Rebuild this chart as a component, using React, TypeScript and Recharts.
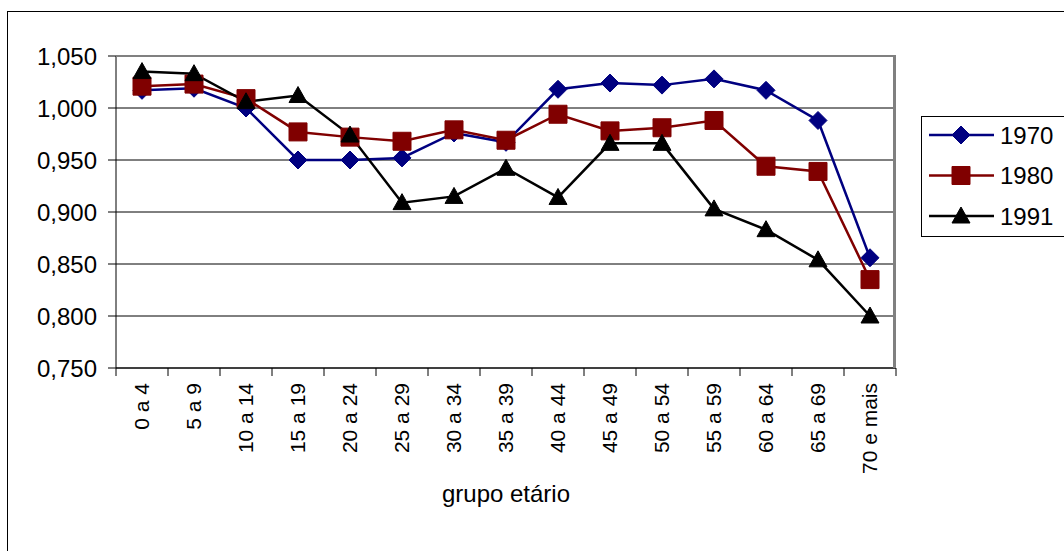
import React from "react";
import { LineChart, Line, XAxis, YAxis, CartesianGrid } from "recharts";

const FONT = '"Liberation Sans", Arial, sans-serif';

const groups = [
  "0 a 4",
  "5 a 9",
  "10 a 14",
  "15 a 19",
  "20 a 24",
  "25 a 29",
  "30 a 34",
  "35 a 39",
  "40 a 44",
  "45 a 49",
  "50 a 54",
  "55 a 59",
  "60 a 64",
  "65 a 69",
  "70 e mais",
];

const v1970 = [1.017, 1.019, 1.0, 0.95, 0.95, 0.952, 0.976, 0.967, 1.018, 1.024, 1.022, 1.028, 1.017, 0.988, 0.856];
const v1980 = [1.021, 1.023, 1.009, 0.977, 0.972, 0.968, 0.979, 0.969, 0.994, 0.978, 0.981, 0.988, 0.944, 0.939, 0.835];
const v1991 = [1.035, 1.033, 1.006, 1.012, 0.974, 0.909, 0.915, 0.942, 0.914, 0.966, 0.966, 0.903, 0.883, 0.854, 0.8];

const yTicks = [0.75, 0.8, 0.85, 0.9, 0.95, 1.0, 1.05];

const series = [
  { key: "y1970", label: "1970", color: "#000080", shape: "diamond" },
  { key: "y1980", label: "1980", color: "#800000", shape: "square" },
  { key: "y1991", label: "1991", color: "#000000", shape: "triangle" },
];

const data = groups.map((g, i) => ({
  grupo: g,
  y1970: v1970[i],
  y1980: v1980[i],
  y1991: v1991[i],
}));

// layout
const W = 1064;
const H = 551;
const MARGIN = { top: 56, right: 168, bottom: 43, left: 8 };
const Y_W = 108;
const X_H = 140;
const PLOT_L = MARGIN.left + Y_W;
const PLOT_R = W - MARGIN.right;
const PLOT_T = MARGIN.top;
const PLOT_B = H - MARGIN.bottom - X_H;
const BAND = (PLOT_R - PLOT_L) / groups.length;

function markerPath(shape: string, cx: number, cy: number) {
  if (shape === "diamond") {
    return `M${cx},${cy - 9}L${cx + 9},${cy}L${cx},${cy + 9}L${cx - 9},${cy}Z`;
  }
  if (shape === "square") {
    return `M${cx - 9},${cy - 9}H${cx + 9}V${cy + 9}H${cx - 9}Z`;
  }
  return `M${cx},${cy - 9}L${cx + 9},${cy + 7}L${cx - 9},${cy + 7}Z`;
}

const makeDot = (shape: string, color: string) => (props: any) => {
  const { cx, cy, index } = props;
  if (cx == null || cy == null) return <g key={index} />;
  return <path key={index} d={markerPath(shape, cx, cy)} fill={color} stroke={color} strokeWidth={1} />;
};

const XTick = (props: any) => {
  const { x, y, payload, index } = props;
  const last = index === groups.length - 1;
  return (
    <g>
      <line x1={x - BAND / 2} x2={x - BAND / 2} y1={PLOT_B} y2={PLOT_B + 8} stroke="#000" />
      {last && <line x1={x + BAND / 2} x2={x + BAND / 2} y1={PLOT_B} y2={PLOT_B + 8} stroke="#000" />}
      <text
        x={x}
        y={y}
        transform={`rotate(-90 ${x} ${y})`}
        textAnchor="end"
        dy="0.35em"
        fontSize={21}
        fontFamily={FONT}
        fill="#000"
      >
        {payload.value}
      </text>
    </g>
  );
};

const fmt = (v: number) => v.toFixed(3).replace(".", ",");

function LegendBox() {
  return (
    <svg
      width={150}
      height={121}
      style={{ position: "absolute", left: 921, top: 116, overflow: "visible" }}
    >
      <rect x={0.5} y={0.5} width={160} height={120} fill="#fff" stroke="#000" />
      {series.map((s, i) => {
        const cy = 19 + i * 40.5;
        return (
          <g key={s.key}>
            <line x1={8} x2={73} y1={cy} y2={cy} stroke={s.color} strokeWidth={2.5} />
            <path d={markerPath(s.shape, 40, cy)} fill={s.color} stroke={s.color} />
            <text x={79} y={cy} dy="0.36em" fontSize={24} fontFamily={FONT} fill="#000">
              {s.label}
            </text>
          </g>
        );
      })}
    </svg>
  );
}

export default function App() {
  return (
    <div
      style={{
        position: "absolute",
        left: 0,
        top: 0,
        width: W,
        height: H,
        overflow: "hidden",
        background: "#fff",
        fontFamily: FONT,
      }}
    >
      <div
        style={{
          position: "absolute",
          left: 7,
          top: 11,
          width: 1100,
          height: 600,
          border: "1px solid #000",
        }}
      />
      <LineChart width={W} height={H} data={data} margin={MARGIN} style={{ position: "absolute", left: 0, top: 0 }}>
        <CartesianGrid horizontal vertical={false} stroke="#000" strokeWidth={1} />
        <XAxis
          dataKey="grupo"
          scale="band"
          height={X_H}
          interval={0}
          tickLine={false}
          tickSize={8}
          tickMargin={7}
          axisLine={{ stroke: "#000" }}
          tick={<XTick />}
          label={{
            value: "grupo etário",
            position: "insideBottom",
            offset: 6,
            fontSize: 24,
            fontFamily: FONT,
            fill: "#000",
          }}
        />
        <YAxis
          domain={[0.75, 1.05]}
          ticks={yTicks}
          width={Y_W}
          tickSize={8}
          tickMargin={11}
          tickFormatter={fmt}
          axisLine={{ stroke: "#000" }}
          tickLine={{ stroke: "#000" }}
          tick={{ fontSize: 24, fontFamily: FONT, fill: "#000" }}
          allowDataOverflow
        />
        {series.map((s) => (
          <Line
            key={s.key}
            type="linear"
            dataKey={s.key}
            name={s.label}
            stroke={s.color}
            strokeWidth={2.5}
            dot={makeDot(s.shape, s.color)}
            activeDot={false}
            isAnimationActive={false}
          />
        ))}
      </LineChart>
      <div
        style={{
          position: "absolute",
          left: PLOT_L,
          top: PLOT_T - 1,
          width: PLOT_R - PLOT_L,
          height: PLOT_B - PLOT_T + 1,
          borderTop: "2px solid #808080",
          borderRight: "3px solid #808080",
          boxSizing: "border-box",
          pointerEvents: "none",
        }}
      />
      <LegendBox />
    </div>
  );
}
